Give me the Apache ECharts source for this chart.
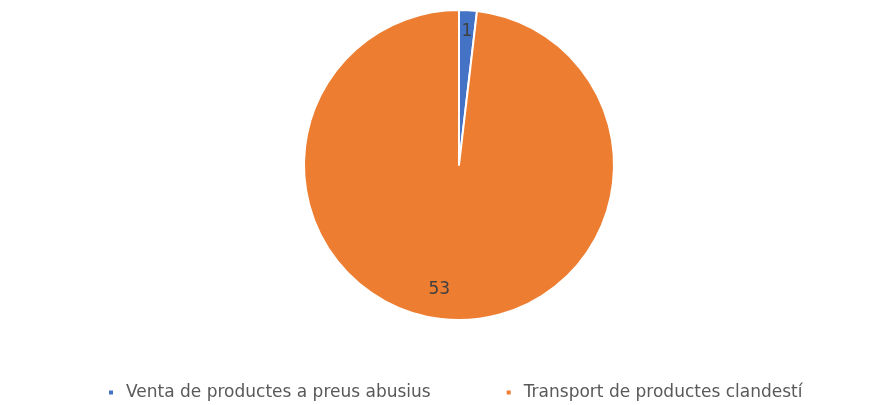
<!DOCTYPE html>
<html>
<head>
<meta charset="utf-8">
<script src="https://cdn.jsdelivr.net/npm/echarts@6/dist/echarts.min.js"></script>
<style>
  html, body { margin: 0; padding: 0; background: #fff; }
  #chart { width: 895px; height: 405px; }
</style>
</head>
<body>
<div id="chart"></div>
<script>
// categories y valores
var categories = ['Venta de productes a preus abusius', 'Transport de productes clandestí'];
var values = [1, 53];
var colors = ['#4472C4', '#ED7D31'];

var pieData = [];
for (var i = 0; i < categories.length; i++) {
    var item = {name: categories[i], value: values[i]};
    // la etiqueta grande queda un poco mas arriba y a la izquierda, como en Excel
    if (i == 1) {
        item.label = {offset: [-12, -9]};
    }
    pieData.push(item);
}

var chart = echarts.init(document.getElementById('chart'));
chart.setOption({
    color: colors,
    textStyle: {fontFamily: 'DejaVu Sans'},
    legend: {
        top: 384,
        left: 107,
        padding: 0,
        icon: 'rect',
        itemWidth: 6,
        itemHeight: 6,
        itemGap: 74,
        textStyle: {color: '#595959', fontSize: 17, padding: [0, 0, 0, 7]},
        data: categories
    },
    series: [
        {
            // porcion visible
            type: 'pie',
            center: [459, 165],
            radius: 155,
            startAngle: 90,
            clockwise: true,
            silent: true,
            itemStyle: {borderColor: '#fff', borderWidth: 2},
            label: {show: false},
            labelLine: {show: false},
            data: pieData
        },
        {
            // capa transparente solo para las etiquetas
            type: 'pie',
            center: [459, 165],
            radius: [102, 160],
            startAngle: 90,
            clockwise: true,
            silent: true,
            itemStyle: {color: 'transparent', borderWidth: 0},
            label: {
                show: true,
                position: 'inside',
                color: '#404040',
                fontSize: 17,
                formatter: '{c}'
            },
            labelLine: {show: false},
            data: pieData
        }
    ]
});
</script>
</body>
</html>
